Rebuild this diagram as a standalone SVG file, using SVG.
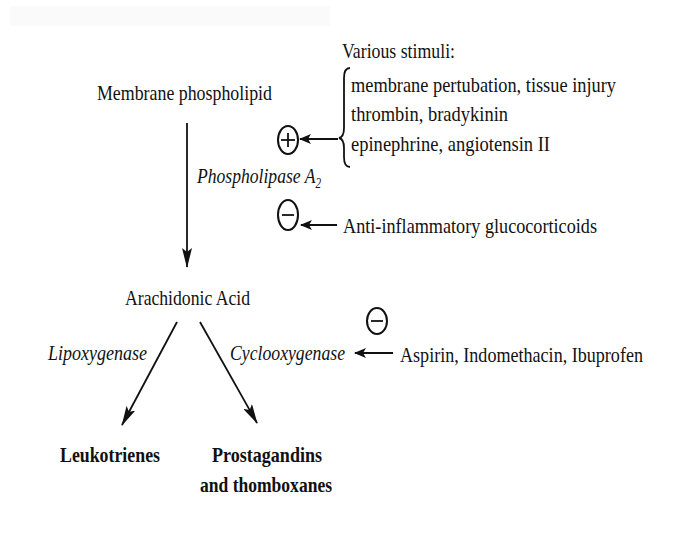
<svg xmlns="http://www.w3.org/2000/svg" width="692" height="536" viewBox="0 0 692 536">
<style>
text{font-family:"Liberation Serif","Times New Roman",serif;font-size:22px;fill:#111}
.it{font-style:italic}
.b{font-weight:bold}
.ln{stroke:#111;stroke-width:1.8;fill:none}
.c{stroke:#111;stroke-width:2;fill:none}
</style>
<defs>
<marker id="ah" viewBox="0 0 12 10" refX="11" refY="5" markerWidth="12" markerHeight="10" markerUnits="userSpaceOnUse" orient="auto">
<path d="M0,0 L12,5 L0,10 L3,5 Z" fill="#111"/>
</marker>
<marker id="ahv" viewBox="0 0 20 10" refX="19" refY="5" markerWidth="20" markerHeight="10" markerUnits="userSpaceOnUse" orient="auto">
<path d="M0,0 L20,5 L0,10 L4,5 Z" fill="#111"/>
</marker>
</defs>
<rect width="692" height="536" fill="#fff"/>
<rect x="10" y="6" width="320" height="20" fill="#fafafa"/>
<g id="connectors">
<line class="ln" x1="187" y1="123" x2="187" y2="267" marker-end="url(#ahv)"/>
<line class="ln" x1="338" y1="139" x2="300" y2="139" stroke-width="2.5" marker-end="url(#ah)"/>
<line class="ln" x1="337" y1="225" x2="301" y2="225" stroke-width="2.5" marker-end="url(#ah)"/>
<line class="ln" x1="393" y1="353" x2="355" y2="353" stroke-width="2.5" marker-end="url(#ah)"/>
<line class="ln" x1="177" y1="322" x2="122" y2="425" marker-end="url(#ahv)"/>
<line class="ln" x1="200" y1="322" x2="257" y2="423" marker-end="url(#ahv)"/>
</g>
<g id="membrane"><text x="97" y="100" textLength="175" lengthAdjust="spacingAndGlyphs">Membrane phospholipid</text></g>
<g id="stimuli">
<text x="342" y="58" textLength="113" lengthAdjust="spacingAndGlyphs">Various stimuli:</text>
<path class="ln" d="M350,68 Q344,68 344,78 L344,128 Q344,137 339,138 Q344,139 344,148 L344,157 Q344,167 350,167"/>
<text x="351" y="92" textLength="265" lengthAdjust="spacingAndGlyphs">membrane pertubation, tissue injury</text>
<text x="351" y="121" textLength="157" lengthAdjust="spacingAndGlyphs">thrombin, bradykinin</text>
<text x="351" y="151" textLength="199" lengthAdjust="spacingAndGlyphs">epinephrine, angiotensin II</text>
</g>
<g id="plus">
<ellipse class="c" cx="288" cy="140" rx="10" ry="14"/>
<line class="ln" x1="281" y1="140" x2="295" y2="140"/>
<line class="ln" x1="288" y1="133" x2="288" y2="147"/>
</g>
<g id="pla2">
<text class="it" x="197" y="183" textLength="124" lengthAdjust="spacingAndGlyphs">Phospholipase A<tspan dy="5" style="font-size:14px">2</tspan></text>
</g>
<g id="minus1">
<ellipse class="c" cx="288" cy="215" rx="10" ry="15"/>
<line class="ln" x1="282" y1="215" x2="294" y2="215" stroke-width="2.5"/>
</g>
<g id="gluco"><text x="343" y="233" textLength="254" lengthAdjust="spacingAndGlyphs">Anti-inflammatory glucocorticoids</text></g>
<g id="arachidonic"><text x="125" y="305" textLength="125" lengthAdjust="spacingAndGlyphs">Arachidonic Acid</text></g>
<g id="lipox"><text class="it" x="48" y="360" textLength="99" lengthAdjust="spacingAndGlyphs">Lipoxygenase</text></g>
<g id="cyclo"><text class="it" x="230" y="360" textLength="115" lengthAdjust="spacingAndGlyphs">Cyclooxygenase</text></g>
<g id="minus2">
<ellipse class="c" cx="377" cy="321" rx="10" ry="13"/>
<line class="ln" x1="371" y1="321" x2="383" y2="321" stroke-width="2.5"/>
</g>
<g id="aspirin"><text x="400" y="362" textLength="243" lengthAdjust="spacingAndGlyphs">Aspirin, Indomethacin, Ibuprofen</text></g>
<g id="leuko"><text class="b" x="60" y="462" textLength="100" lengthAdjust="spacingAndGlyphs">Leukotrienes</text></g>
<g id="prosta">
<text class="b" x="212" y="462" textLength="110" lengthAdjust="spacingAndGlyphs">Prostagandins</text>
<text class="b" x="200" y="492" textLength="132" lengthAdjust="spacingAndGlyphs">and thomboxanes</text>
</g>
</svg>
